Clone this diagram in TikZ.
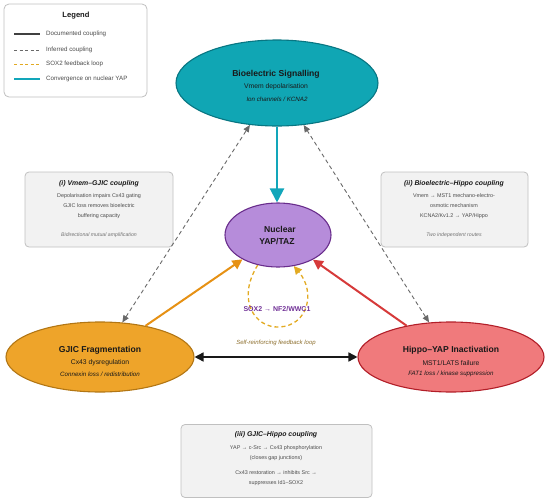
\documentclass[tikz,border=0pt]{standalone}
\usepackage{fontspec}
\setmainfont{Liberation Sans}
\usetikzlibrary{arrows.meta,shapes.geometric}
\definecolor{bioF}{RGB}{16,166,180}
\definecolor{bioE}{RGB}{8,118,130}
\definecolor{nucF}{RGB}{182,140,218}
\definecolor{nucE}{RGB}{105,45,140}
\definecolor{gjF}{RGB}{238,164,42}
\definecolor{gjE}{RGB}{178,118,20}
\definecolor{hiF}{RGB}{240,122,124}
\definecolor{hiE}{RGB}{178,30,40}
\definecolor{tealA}{RGB}{18,166,186}
\definecolor{oraA}{RGB}{230,145,20}
\definecolor{redA}{RGB}{214,58,58}
\definecolor{grayA}{RGB}{105,105,105}
\definecolor{loopC}{RGB}{226,170,34}
\definecolor{boxF}{RGB}{242,242,242}
\definecolor{boxE}{RGB}{192,192,192}
\definecolor{purp}{RGB}{112,48,150}
\definecolor{olive}{RGB}{140,110,45}
\definecolor{bodyC}{RGB}{75,75,75}
\definecolor{noteC}{RGB}{115,115,115}
\definecolor{darkT}{RGB}{25,25,25}
\begin{document}
\begin{tikzpicture}[x=1pt,y=-1pt,
  ell/.style={ellipse,inner sep=0pt,line width=1.1pt},
  infobox/.style={rectangle,rounded corners=4pt,fill=boxF,draw=boxE,line width=0.8pt,inner sep=0pt},
  legbox/.style={rectangle,rounded corners=5pt,fill=white,draw=boxE,line width=0.8pt,inner sep=0pt},
  etitle/.style={inner sep=0pt,text=darkT,font=\fontsize{8.6}{10}\selectfont\bfseries},
  esub/.style={inner sep=0pt,text=darkT,font=\fontsize{6.8}{8}\selectfont},
  eital/.style={inner sep=0pt,text=darkT,font=\fontsize{6.2}{7.5}\selectfont\itshape},
  btitle/.style={inner sep=0pt,text=darkT,font=\fontsize{6.9}{8}\selectfont\bfseries\itshape},
  bbody/.style={inner sep=0pt,text=bodyC,align=center,font=\fontsize{5.4}{10}\selectfont},
  bnote/.style={inner sep=0pt,text=noteC,font=\fontsize{5.2}{6}\selectfont\itshape},
  legtxt/.style={inner sep=0pt,anchor=west,text=bodyC,font=\fontsize{6.2}{7}\selectfont},
  teal arrow/.style={draw=tealA,line width=2.2pt,-{Triangle[length=14pt,width=14pt]}},
  ora arrow/.style={draw=oraA,line width=2pt,-{Triangle[length=10pt,width=10pt]}},
  red arrow/.style={draw=redA,line width=2pt,-{Triangle[length=10pt,width=10pt]}},
  dbl arrow/.style={draw=black!90,line width=1.6pt,{Triangle[length=9pt,width=9pt]}-{Triangle[length=9pt,width=9pt]}},
  inf arrow/.style={draw=grayA,line width=0.9pt,dash pattern=on 4pt off 3pt,{Triangle[length=7pt,width=6pt]}-{Triangle[length=7pt,width=6pt]}},
  loop arrow/.style={draw=loopC,line width=1.3pt,dash pattern=on 4pt off 3pt,-{Triangle[length=8pt,width=8pt]}}
]
\useasboundingbox (0,0) rectangle (550,504);

% Legend
\node[legbox,minimum width=143pt,minimum height=93pt] (legend) at (75.5,50.5) {};
\node[inner sep=0pt,text=darkT,font=\fontsize{7.6}{9}\selectfont\bfseries] (legT) at (76,16) {Legend};
\coordinate (l1a) at (14,34); \coordinate (l1b) at (40,34);
\coordinate (l2a) at (14,50); \coordinate (l2b) at (40,50);
\coordinate (l3a) at (14,64); \coordinate (l3b) at (40,64);
\coordinate (l4a) at (14,79); \coordinate (l4b) at (40,79);
\draw[draw=black!75,line width=1.2pt] (l1a) -- (l1b);
\draw[draw=grayA,line width=0.9pt,dash pattern=on 3pt off 2.5pt] (l2a) -- (l2b);
\draw[draw=loopC,line width=0.9pt,dash pattern=on 3pt off 2.5pt] (l3a) -- (l3b);
\draw[draw=tealA,line width=1.6pt] (l4a) -- (l4b);
\node[legtxt] (lt1) at (46,34) {Documented coupling};
\node[legtxt] (lt2) at (46,50) {Inferred coupling};
\node[legtxt] (lt3) at (46,64) {SOX2 feedback loop};
\node[legtxt] (lt4) at (46,79) {Convergence on nuclear YAP};

% Ellipses
\node[ell,fill=bioF,draw=bioE,minimum width=202pt,minimum height=86pt] (bio) at (277,83) {};
\node[ell,fill=nucF,draw=nucE,minimum width=106pt,minimum height=64pt] (nuc) at (278,235) {};
\node[ell,fill=gjF,draw=gjE,minimum width=188pt,minimum height=70pt] (gjic) at (100,357) {};
\node[ell,fill=hiF,draw=hiE,minimum width=186pt,minimum height=70pt] (hippo) at (451,357) {};

\node[etitle] (bioT) at (276,74) {Bioelectric Signalling};
\node[esub] (bioS) at (276,87) {Vmem depolarisation};
\node[eital] (bioI) at (277,99) {Ion channels / KCNA2};

\node[etitle] (nucT1) at (280,229) {Nuclear};
\node[etitle] (nucT2) at (277,241) {YAP/TAZ};

\node[etitle] (gjT) at (100,350) {GJIC Fragmentation};
\node[esub] (gjS) at (100,363) {Cx43 dysregulation};
\node[eital] (gjI) at (100,374) {Connexin loss / redistribution};

\node[etitle] (hiT) at (451,350) {Hippo–YAP Inactivation};
\node[esub] (hiS) at (451,363) {MST1/LATS failure};
\node[eital] (hiI) at (451,374) {FAT1 loss / kinase suppression};

% Info boxes
\node[infobox,minimum width=148pt,minimum height=75pt] (boxi) at (99,209.5) {};
\node[btitle] (boxiT) at (99,184) {(i) Vmem–GJIC coupling};
\node[bbody] (boxiB) at (99,206) {Depolarisation impairs Cx43 gating\\GJIC loss removes bioelectric\\buffering capacity};
\node[bnote] (boxiN) at (99,235) {Bidirectional mutual amplification};

\node[infobox,minimum width=147pt,minimum height=75pt] (boxii) at (454.5,209.5) {};
\node[btitle] (boxiiT) at (454,184) {(ii) Bioelectric–Hippo coupling};
\node[bbody] (boxiiB) at (454,206) {Vmem → MST1 mechano-electro-\\osmotic mechanism\\KCNA2/Kv1.2 → YAP/Hippo};
\node[bnote] (boxiiN) at (454,235) {Two independent routes};

\node[infobox,minimum width=191pt,minimum height=73pt] (boxiii) at (276.5,461) {};
\node[btitle] (boxiiiT) at (276,435) {(iii) GJIC–Hippo coupling};
\node[bbody] (boxiiiB1) at (276,453) {YAP → c-Src → Cx43 phosphorylation\\(closes gap junctions)};
\node[bbody] (boxiiiB2) at (276,478) {Cx43 restoration → inhibits Src →\\suppresses Id1–SOX2};

% Connectors
\draw[inf arrow] (gjic) -- (bio);
\draw[inf arrow] (hippo) -- (bio);
\draw[teal arrow] (bio.south) -- (bio.south |- nuc.north);
\draw[ora arrow] (gjic) -- (nuc);
\draw[red arrow] (hippo) -- (nuc);
\draw[dbl arrow] (gjic) -- (hippo);
\draw[loop arrow] (nuc.236) .. controls (236,300) and (255,328) .. (279,327) .. controls (308,326) and (316,292) .. (nuc.297);

\node[inner sep=0pt,text=purp,font=\fontsize{7}{8}\selectfont\bfseries] (sox) at (277,309) {SOX2 → NF2/WWC1};
\node[inner sep=0pt,text=olive,font=\fontsize{6}{7}\selectfont\itshape] (selfT) at (276,343) {Self-reinforcing feedback loop};
\end{tikzpicture}
\end{document}
